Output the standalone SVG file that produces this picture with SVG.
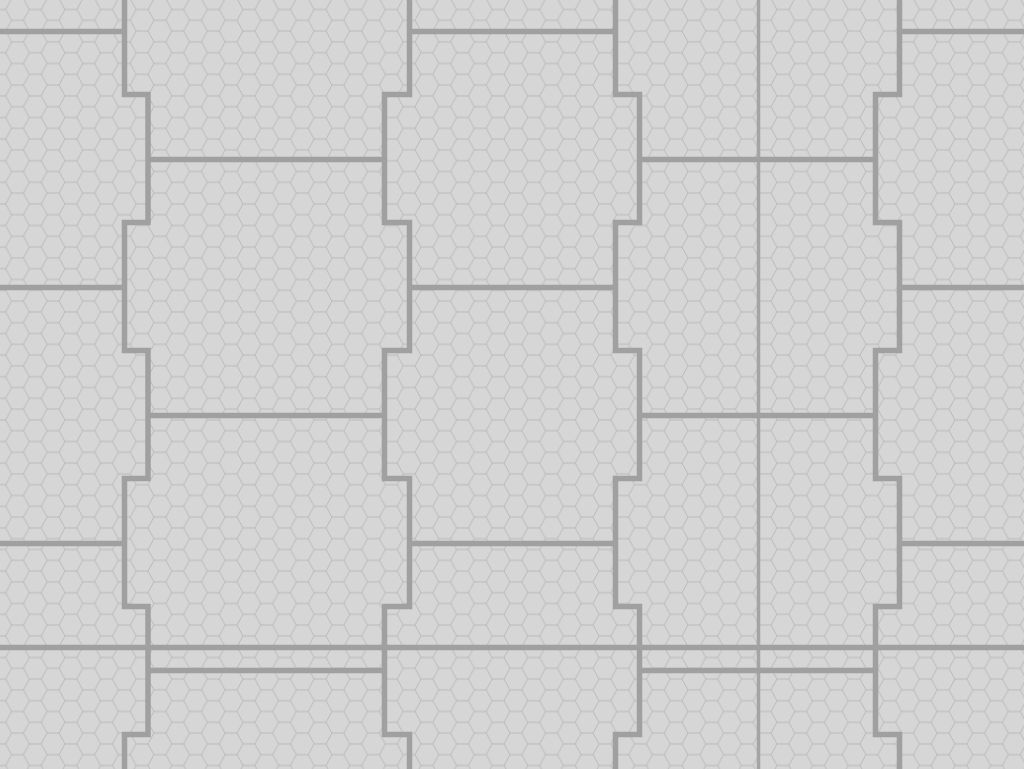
<svg xmlns="http://www.w3.org/2000/svg" width="1024" height="769" viewBox="0 0 1024 769">
  <style>
    .wall { fill: none; stroke: #a0a0a0; stroke-width: 5.5; stroke-linejoin: miter; stroke-linecap: butt; }
    .thin { fill: none; stroke: #a4a4a4; stroke-width: 3.5; }
    .hex { fill: none; stroke: #b2b2b2; stroke-width: 0.8; }
  </style>
  <defs>
    <pattern id="hexes" patternUnits="userSpaceOnUse" width="35.6" height="21.6" patternTransform="translate(17.5 9.5)">
      <path class="hex" d="M0,10.8 L5.93,10.8 L11.87,0 L23.73,0 L29.67,10.8 L35.6,10.8 M5.93,10.8 L11.87,21.6 L23.73,21.6 L29.67,10.8"/>
    </pattern>
  </defs>
  <g id="floor">
    <rect x="0" y="0" width="1024" height="769" fill="#d6d6d6"/>
    <rect x="0" y="0" width="1024" height="769" fill="url(#hexes)"/>
  </g>
  <g id="seams">
    <line class="thin" x1="758.5" y1="0" x2="758.5" y2="769"/>
    <polyline class="wall" points="124.5,-5 124.5,94.5 148,94.5 148,222.5 124.5,222.5 124.5,350.5 148,350.5 148,478.5 124.5,478.5 124.5,606.5 148,606.5 148,734.5 124.5,734.5 124.5,775"/>
    <polyline class="wall" points="409.5,-5 409.5,94.5 384.5,94.5 384.5,222.5 409.5,222.5 409.5,350.5 384.5,350.5 384.5,478.5 409.5,478.5 409.5,606.5 384.5,606.5 384.5,734.5 409.5,734.5 409.5,775"/>
    <polyline class="wall" points="615.5,-5 615.5,94.5 639.5,94.5 639.5,222.5 615.5,222.5 615.5,350.5 639.5,350.5 639.5,478.5 615.5,478.5 615.5,606.5 639.5,606.5 639.5,734.5 615.5,734.5 615.5,775"/>
    <polyline class="wall" points="899.5,-5 899.5,94.5 875.5,94.5 875.5,222.5 899.5,222.5 899.5,350.5 875.5,350.5 875.5,478.5 899.5,478.5 899.5,606.5 875.5,606.5 875.5,734.5 899.5,734.5 899.5,775"/>
    <path class="wall" d="M0,31.5 H124.5 M409.5,31.5 H615.5 M899.5,31.5 H1024
                          M148,159.5 H384.5 M639.5,159.5 H875.5
                          M0,287.5 H124.5 M409.5,287.5 H615.5 M899.5,287.5 H1024
                          M148,415.5 H384.5 M639.5,415.5 H875.5
                          M0,543.5 H124.5 M409.5,543.5 H615.5 M899.5,543.5 H1024
                          M148,670.5 H384.5 M639.5,670.5 H875.5
                          M0,647.5 H1024"/>
  </g>
</svg>
